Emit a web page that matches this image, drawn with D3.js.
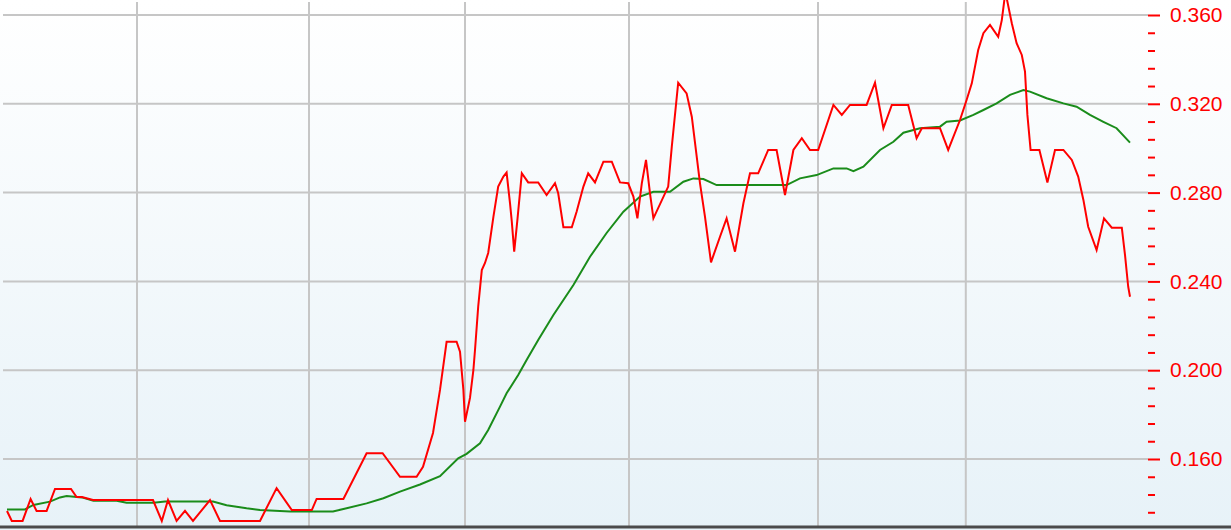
<!DOCTYPE html>
<html lang="en">

<head>
    <meta charset="UTF-8">
    <title>Line chart</title>
    <script src="https://d3js.org/d3.v7.min.js"></script>
    <style>
        body {
            margin: 0;
            background: #ffffff;
        }

        .chart {
            display: block;
        }

        .y-axis text {
            font-family: "Liberation Sans", Arial, sans-serif;
            font-size: 21px;
            fill: #ff0000;
        }
    </style>
</head>

<body>
    <svg class="chart"></svg>

    <script>
        // Session positions where the vertical (month) grid lines fall
        const monthStarts = [32.5, 75.5, 114.5, 155.5, 202.75, 239.7];

        // Right axis labels
        const majorTicks = [0.16, 0.20, 0.24, 0.28, 0.32, 0.36];

        // Red series (session, value)
        const redX = [0, 1.2, 3.9, 5.9, 7.4, 9.9, 12, 16, 17.4, 18.75, 21.5, 36.5, 38.7, 40.25, 42.4, 44.5, 46.5, 50.75,
            53.25, 63.25, 67.4, 71.2, 76.2, 77.4, 84.1, 89.9, 93.9, 98.25, 102.4, 104, 106.5, 108.25, 109.9, 112.4,
            113.25, 114.1, 114.5, 115.75, 116.6, 117, 117.8, 118.7, 119.5, 120.3, 121.6, 122.8, 124.1, 124.9, 125.75,
            126.2, 126.8, 127.6, 128.7, 130.3, 132.8, 134.9, 137, 137.8, 139.1, 141.2, 142.4, 144.1, 145.3, 147,
            149.1, 151.2, 153.25, 155.3, 156.6, 157.6, 158.7, 159.75, 160.75, 161.6, 165.3, 166.2, 167.8, 169.9,
            171.2, 173.25, 174.5, 176, 178.25, 179.9, 182, 184.1, 185.75, 187.8, 190.3, 192.4, 194.5, 196.6, 198.7,
            200.75, 202.8, 206.6, 208.7, 210.75, 214.9, 217, 219.1, 221.2, 225.3, 227.4, 228.7, 233.25, 235.3,
            238.25, 239.9, 241.2, 242.8, 244.1, 245.75, 247.8, 248.7, 249.6, 251.2, 252.4, 253.7, 254.5, 255.1,
            255.9, 258.1, 260.1, 262, 264.1, 266.2, 267.8, 269.1, 270.3, 272.4, 274.25, 276.2, 278.7, 279.5, 280.3,
            280.75];
        const redY = [0.1366, 0.1321, 0.1321, 0.1420, 0.1366, 0.1366, 0.1465, 0.1465, 0.1429, 0.1429, 0.1415, 0.1415,
            0.1321, 0.1415, 0.1321, 0.1366, 0.1321, 0.1415, 0.1321, 0.1321, 0.1469, 0.1370, 0.1370, 0.1420, 0.1420,
            0.1626, 0.1626, 0.1520, 0.1520, 0.1565, 0.1717, 0.1911, 0.2128, 0.2128, 0.2083, 0.1911, 0.1768, 0.1875,
            0.2001, 0.2091, 0.2286, 0.2451, 0.2483, 0.2528, 0.2691, 0.2827, 0.2872, 0.2890, 0.2753, 0.2669, 0.2534,
            0.2677, 0.2887, 0.2846, 0.2846, 0.2789, 0.2842, 0.2797, 0.2644, 0.2644, 0.2714, 0.2827, 0.2887, 0.2846,
            0.2939, 0.2939, 0.2846, 0.2842, 0.2782, 0.2684, 0.2842, 0.2947, 0.2797, 0.2684, 0.2827, 0.3007, 0.3295,
            0.3247, 0.3142, 0.2842, 0.2691, 0.2486, 0.2601, 0.2684, 0.2534, 0.2752, 0.2887, 0.2887, 0.2992, 0.2992,
            0.2789, 0.2992, 0.3045, 0.2992, 0.2992, 0.3195, 0.3150, 0.3195, 0.3195, 0.3295, 0.3090, 0.3195, 0.3195,
            0.3045, 0.3090, 0.3090, 0.2992, 0.3127, 0.3217, 0.3292, 0.3442, 0.3518, 0.3555, 0.3502, 0.3577, 0.3704,
            0.3563, 0.3473, 0.3420, 0.3345, 0.3150, 0.2992, 0.2992, 0.2845, 0.2992, 0.2992, 0.2947, 0.2872, 0.2767,
            0.2646, 0.2541, 0.2684, 0.2642, 0.2642, 0.2519, 0.2376, 0.2331];

        // Green series (moving average)
        const greenX = [0, 4.5, 6.6, 10.75, 13.25, 14.9, 18.7, 21.6, 27.4, 29.9, 36.6, 39.5, 45.75, 51.5, 54.9, 59.9,
            63.25, 70.75, 81.5, 84.9, 89.9, 94.1, 98.25, 103.25, 108.25, 112.8, 114.9, 118.25, 120.3, 123.25, 124.9,
            127.8, 129.9, 132.8, 136.6, 141.6, 145.75, 149.9, 154.1, 158.25, 161.6, 165.75, 169.1, 171.6, 174.1,
            177.4, 194.9, 198.25, 202.4, 206.6, 209.9, 211.6, 214.1, 218.25, 221.6, 224.1, 228.25, 233.25, 234.9,
            238.25, 241.6, 244.1, 247.4, 250.75, 254.1, 255.75, 259.9, 264.1, 267.4, 270.75, 274.1, 277.4, 280.75];
        const greenY = [0.1373, 0.1373, 0.1393, 0.1408, 0.1427, 0.1433, 0.1427, 0.1412, 0.1412, 0.1403, 0.1403, 0.1408,
            0.1408, 0.1408, 0.1392, 0.1378, 0.1370, 0.1364, 0.1364, 0.1378, 0.1400, 0.1423, 0.1453, 0.1485, 0.1523,
            0.1603, 0.1623, 0.1671, 0.1731, 0.1836, 0.1896, 0.1978, 0.2046, 0.2136, 0.2249, 0.2384, 0.2511, 0.2618,
            0.2714, 0.2782, 0.2804, 0.2804, 0.2849, 0.2864, 0.2861, 0.2834, 0.2834, 0.2864, 0.2879, 0.2909, 0.2909,
            0.2897, 0.2917, 0.2992, 0.3029, 0.3070, 0.3090, 0.3097, 0.3119, 0.3125, 0.3150, 0.3172, 0.3202, 0.3240,
            0.3262, 0.3255, 0.3225, 0.3202, 0.3187, 0.3150, 0.3119, 0.3090, 0.3025];

        const width = 1231,
            height = 530,
            plotRight = 1148,
            plotBottom = 526;

        const svg = d3.select(".chart")
            .attr("width", width)
            .attr("height", height);

        // background gradient
        const defs = svg.append("defs");
        const grad = defs.append("linearGradient")
            .attr("id", "bg")
            .attr("x1", 0).attr("y1", 0)
            .attr("x2", 0).attr("y2", 1);
        grad.append("stop").attr("offset", "0%").attr("stop-color", "#ffffff");
        grad.append("stop").attr("offset", "100%").attr("stop-color", "#e7f2f8");

        defs.append("clipPath")
            .attr("id", "plot-clip")
            .append("rect")
            .attr("x", 0).attr("y", 0)
            .attr("width", plotRight)
            .attr("height", plotBottom);

        svg.append("rect")
            .attr("width", width)
            .attr("height", height)
            .attr("fill", "url(#bg)");

        const xScale = d3.scaleLinear()
            .domain([0, 281])
            .range([7, 1131]);

        const yScale = d3.scaleLinear()
            .domain([0.16, 0.36])
            .range([459, 15]);

        // grid lines
        const grid = svg.append("g").attr("class", "grid");
        grid.selectAll(".hgrid")
            .data(majorTicks)
            .enter().append("line")
            .attr("class", "hgrid")
            .attr("x1", 3)
            .attr("x2", plotRight)
            .attr("y1", d => yScale(d))
            .attr("y2", d => yScale(d))
            .attr("stroke", "#c6c6c6")
            .attr("stroke-width", 2);

        grid.selectAll(".vgrid")
            .data(monthStarts)
            .enter().append("line")
            .attr("class", "vgrid")
            .attr("x1", d => xScale(d))
            .attr("x2", d => xScale(d))
            .attr("y1", 2)
            .attr("y2", plotBottom)
            .attr("stroke", "#c6c6c6")
            .attr("stroke-width", 2);

        // lines
        const line = d3.line()
            .x(d => xScale(d[0]))
            .y(d => yScale(d[1]));

        const plot = svg.append("g").attr("clip-path", "url(#plot-clip)");

        plot.append("path")
            .datum(greenX.map((x, i) => [x, greenY[i]]))
            .attr("fill", "none")
            .attr("stroke", "#1a8c1a")
            .attr("stroke-width", 2)
            .attr("d", line);

        plot.append("path")
            .datum(redX.map((x, i) => [x, redY[i]]))
            .attr("fill", "none")
            .attr("stroke", "#ff0000")
            .attr("stroke-width", 2)
            .attr("d", line);

        // right axis: minor ticks then labelled major ticks
        const minorTicks = d3.range(0.136, 0.361, 0.008).filter(v => !majorTicks.some(m => Math.abs(m - v) < 1e-6));

        svg.append("g")
            .attr("transform", "translate(" + plotRight + ",0)")
            .call(d3.axisRight(yScale).tickValues(minorTicks).tickSize(7).tickFormat(""))
            .call(g => g.select(".domain").remove())
            .call(g => g.selectAll("line").attr("stroke", "#ff0000").attr("stroke-width", 2));

        svg.append("g")
            .attr("class", "y-axis")
            .attr("transform", "translate(" + plotRight + ",0)")
            .call(d3.axisRight(yScale).tickValues(majorTicks).tickSize(12).tickPadding(10).tickFormat(d3.format(".3f")))
            .call(g => g.select(".domain").remove())
            .call(g => g.selectAll("line").attr("stroke", "#ff0000").attr("stroke-width", 2))
            .call(g => g.selectAll("text").attr("font-family", null).attr("font-size", null).attr("fill", null));

        // bottom frame line
        svg.append("line")
            .attr("x1", 0)
            .attr("x2", width)
            .attr("y1", plotBottom + 1)
            .attr("y2", plotBottom + 1)
            .attr("stroke", "#4b4b4b")
            .attr("stroke-width", 3);
    </script>
</body>

</html>
